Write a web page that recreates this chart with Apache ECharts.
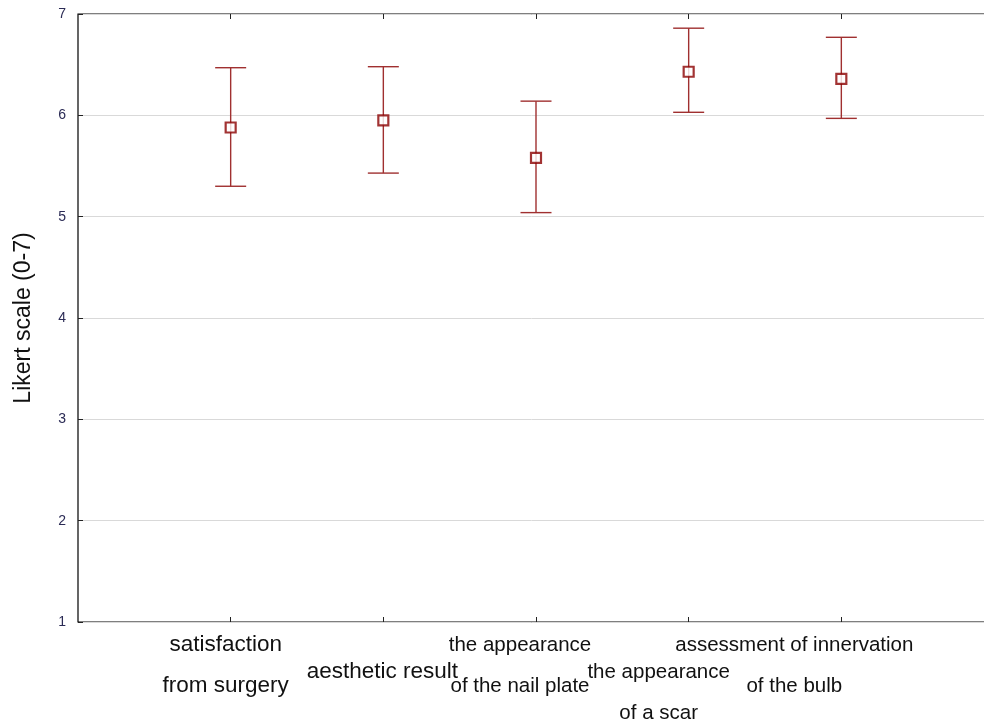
<!DOCTYPE html>
<html>
<head>
<meta charset="utf-8">
<script src="https://cdn.jsdelivr.net/npm/echarts@6/dist/echarts.min.js"></script>
<style>
  html, body { margin: 0; padding: 0; background: #fff; }
  #chart { width: 984px; height: 725px; }
</style>
</head>
<body>
<div id="chart"></div>
<script>
  // categories (empty slots at both ends keep the axis running 0..6)
  const categories = ['', 'satisfaction\nfrom surgery', 'aesthetic result', 'the appearance\nof the nail plate', 'the appearance\nof a scar', 'assessment of innervation\nof the bulb', '']
  const means = [5.88, 5.95, 5.58, 6.43, 6.36]
  const lower = [5.30, 5.43, 5.04, 6.03, 5.97]
  const upper = [6.47, 6.48, 6.14, 6.86, 6.77]
  const yTicks = [1, 2, 3, 4, 5, 6, 7]

  const barColor = '#a03030'
  const markColor = '#8b0000'
  const font = 'Liberation Sans, Arial, sans-serif'

  // label look, per category slot: size and how far left of the tick it sits
  const labelSize = [0, 22.5, 22.5, 20.5, 20.5, 20.5, 0]
  const labelNudge = [0, 5, 1, 16, 30, 47, 0]

  const rich = { sp: { fontSize: 4, lineHeight: 27 } }
  labelSize.forEach((s, i) => {
    rich['t' + i] = {
      fontSize: s || 20, lineHeight: 41, color: '#111', fontFamily: font,
      padding: [0, labelNudge[i] * 2, 0, 0]
    }
  })

  const chart = echarts.init(document.getElementById('chart'))

  const errData = means.map((m, i) => [i + 1, lower[i], upper[i]])
  const pointData = means.map((m, i) => [i + 1, m])

  const tickInterval = (i) => i > 0 && i < categories.length - 1

  chart.setOption({
    animation: false,
    grid: {
      left: 78, top: 14, width: 916, height: 608,
      outerBoundsMode: 'none',
      containLabel: false,
      show: true, borderColor: '#000', borderWidth: 1.2
    },
    xAxis: [{
      type: 'category',
      data: categories,
      boundaryGap: false,
      axisLine: { show: false },
      axisTick: { inside: true, length: 5, lineStyle: { color: '#222' }, interval: tickInterval },
      axisLabel: {
        interval: 0,
        margin: 2.5,
        hideOverlap: false,
        fontFamily: font,
        fontSize: 20,
        color: '#111',
        lineHeight: 41,
        formatter: function (v, i) {
          if (!v) return ''
          const lines = v.split('\n').map(s => '{t' + i + '|' + s + '}').join('\n')
          return i % 2 === 0 ? '{sp| }\n' + lines : lines
        },
        rich: rich
      },
      splitLine: { show: false }
    }, {
      type: 'category',
      position: 'top',
      data: categories,
      boundaryGap: false,
      axisLine: { show: false },
      axisTick: { inside: true, length: 5, lineStyle: { color: '#222' }, interval: tickInterval },
      axisLabel: { show: false }
    }],
    yAxis: {
      type: 'value',
      min: yTicks[0],
      max: yTicks[yTicks.length - 1],
      interval: 1,
      name: 'Likert scale (0-7)',
      nameLocation: 'middle',
      nameGap: 43,
      nameRotate: 90,
      nameTextStyle: { fontSize: 23, color: '#111', fontFamily: font },
      axisLine: { show: false },
      axisTick: { show: true, inside: true, length: 5, lineStyle: { color: '#222' } },
      axisLabel: { margin: 12, fontSize: 14, color: '#2b2b55', fontFamily: font },
      splitLine: { show: true, lineStyle: { color: '#d9d9d9', width: 1 } }
    },
    series: [{
      type: 'custom',
      data: errData,
      z: 2,
      renderItem: function (params, api) {
        const x = api.value(0)
        const lo = api.coord([x, api.value(1)])
        const hi = api.coord([x, api.value(2)])
        const w = 15.5
        const style = { stroke: barColor, lineWidth: 1.4 }
        return {
          type: 'group',
          children: [
            { type: 'line', shape: { x1: lo[0], y1: lo[1], x2: hi[0], y2: hi[1] }, style },
            { type: 'line', shape: { x1: hi[0] - w, y1: hi[1], x2: hi[0] + w, y2: hi[1] }, style },
            { type: 'line', shape: { x1: lo[0] - w, y1: lo[1], x2: lo[0] + w, y2: lo[1] }, style }
          ]
        }
      }
    }, {
      type: 'scatter',
      data: pointData,
      symbol: 'rect',
      symbolSize: 10,
      z: 3,
      itemStyle: { color: '#fff', borderColor: markColor, borderWidth: 2.2 }
    }]
  })
</script>
</body>
</html>
